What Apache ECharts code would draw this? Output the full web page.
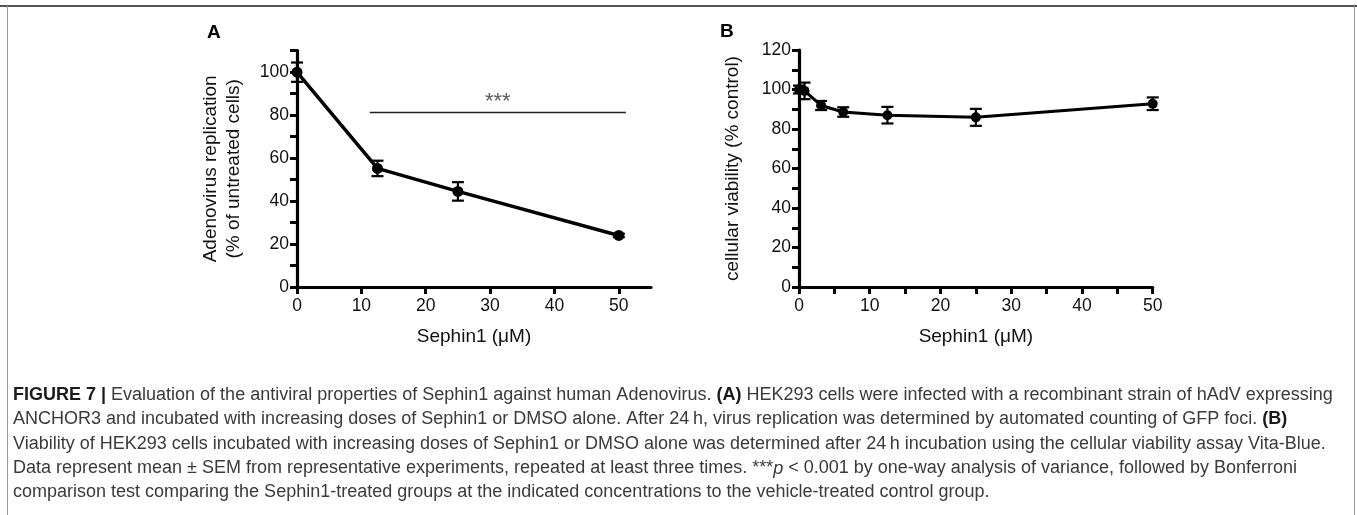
<!DOCTYPE html>
<html>
<head>
<meta charset="utf-8">
<script src="https://cdn.jsdelivr.net/npm/echarts@6/dist/echarts.min.js"></script>
<style>
html,body{margin:0;padding:0;background:#fff;}
#chart{width:1357px;height:515px;}
</style>
</head>
<body>
<div id="chart"></div>
<script>
// Panel A: adenovirus replication
const aX = [0, 12.5, 25, 50];
const aY = [100, 55.2, 44.5, 24];
const aErr = [4.5, 3.6, 4.3, 0.8];
// significance bar (x from, x to, y) and its label
const sigX = [11.3, 51.1];
const sigY = 81.2;
const sigText = '***';
// Panel B: cellular viability
const bX = [0, 0.78, 3.125, 6.25, 12.5, 25, 50];
const bY = [100, 99.3, 91.9, 88.6, 87.0, 85.9, 92.8];
const bErr = [2.0, 4.2, 2.3, 2.4, 4.2, 4.3, 3.2];
// axis ticks
const aXTicks = [0, 10, 20, 30, 40, 50];
const xName = 'Sephin1 (μM)';
const aYName = 'Adenovirus replication\n(% of untreated cells)';
const bYName = 'cellular viability (% control)';
const captionLines = [
  [['b','FIGURE 7 | '],['n','Evaluation of the antiviral properties of Sephin1 against human Adenovirus. '],['b','(A)'],['n',' HEK293 cells were infected with a recombinant strain of hAdV expressing']],
  [['n','ANCHOR3 and incubated with increasing doses of Sephin1 or DMSO alone. After 24\u2009h, virus replication was determined by automated counting of GFP foci. '],['b','(B)']],
  [['n','Viability of HEK293 cells incubated with increasing doses of Sephin1 or DMSO alone was determined after 24\u2009h incubation using the cellular viability assay Vita-Blue.']],
  [['n','Data represent mean \u00b1 SEM from representative experiments, repeated at least three times. ***'],['i','p'],['n',' < 0.001 by one-way analysis of variance, followed by Bonferroni']],
  [['n','comparison test comparing the Sephin1-treated groups at the indicated concentrations to the vehicle-treated control group.']]
];

const FONT = "'Liberation Sans', Arial, sans-serif";
const chart = echarts.init(document.getElementById('chart'), null, {renderer: 'canvas'});

function errRender(params, api) {
  const x = api.value(0), y = api.value(1), e = api.value(2);
  const t = api.coord([x, y + e]), b = api.coord([x, y - e]);
  const w = 6;
  const st = {stroke: '#000', lineWidth: 2.2};
  return {type: 'group', children: [
    {type: 'line', shape: {x1: t[0], y1: t[1], x2: b[0], y2: b[1]}, style: st},
    {type: 'line', shape: {x1: t[0] - w, y1: t[1], x2: t[0] + w, y2: t[1]}, style: st},
    {type: 'line', shape: {x1: b[0] - w, y1: b[1], x2: b[0] + w, y2: b[1]}, style: st}
  ]};
}

const axisLineStyle = {show: true, lineStyle: {color: '#000', width: 3.2}};
const tickStyle = {show: true, length: 7, lineStyle: {color: '#000', width: 3}};
const labelStyle = {color: '#111', fontSize: 17.5, fontFamily: FONT};
const nameStyle = {color: '#111', fontSize: 19, fontFamily: FONT};

const capFont = 18;
const graphics = [
  {type: 'line', shape: {x1: 0, y1: 6, x2: 1357, y2: 6}, style: {stroke: '#555', lineWidth: 2}},
  {type: 'line', shape: {x1: 7.5, y1: 6, x2: 7.5, y2: 515}, style: {stroke: '#999', lineWidth: 1}},
  {type: 'line', shape: {x1: 1354.5, y1: 6, x2: 1354.5, y2: 515}, style: {stroke: '#999', lineWidth: 1}},
  {type: 'text', left: 207, top: 23, style: {text: 'A', font: "bold 19px " + FONT, fill: '#000'}},
  {type: 'text', left: 720, top: 22, style: {text: 'B', font: "bold 19px " + FONT, fill: '#000'}}
];
const capTop = [395, 419.5, 444, 468.5, 492];
captionLines.forEach((parts, i) => {
  const text = parts.map(p => '{' + p[0] + '|' + p[1].replace(/[{}]/g, '') + '}').join('');
  graphics.push({
    type: 'text', x: 13, y: capTop[i],
    style: {
      text: text, verticalAlign: 'middle', align: 'left',
      rich: {
        n: {fontSize: capFont, fontFamily: FONT, fill: '#3a3a3a', color: '#3a3a3a'},
        b: {fontSize: capFont, fontFamily: FONT, fontWeight: 'bold', fill: '#1a1a1a', color: '#1a1a1a'},
        i: {fontSize: capFont, fontFamily: FONT, fontStyle: 'italic', fill: '#3a3a3a', color: '#3a3a3a'}
      }
    }
  });
});

const option = {
  backgroundColor: '#fff',
  animation: false,
  grid: [
    {left: 297, top: 50.7, width: 354, height: 236.3, containLabel: false},
    {left: 799, top: 50, width: 353.7, height: 237, containLabel: false}
  ],
  xAxis: [
    {
      type: 'value', gridIndex: 0, min: 0, max: 55,
      splitLine: {show: false},
      axisLine: axisLineStyle,
      axisTick: Object.assign({}, tickStyle, {customValues: aXTicks}),
      axisLabel: Object.assign({}, labelStyle, {margin: 10, customValues: aXTicks}),
      name: xName, nameLocation: 'middle', nameGap: 40, nameTextStyle: nameStyle
    },
    {
      type: 'value', gridIndex: 1, min: 0, max: 50, interval: 5,
      splitLine: {show: false},
      axisLine: axisLineStyle,
      axisTick: tickStyle,
      axisLabel: Object.assign({}, labelStyle, {margin: 10, formatter: v => (v % 10 === 0 ? String(v) : '')}),
      name: xName, nameLocation: 'middle', nameGap: 40, nameTextStyle: nameStyle
    }
  ],
  yAxis: [
    {
      type: 'value', gridIndex: 0, min: 0, max: 110, interval: 10,
      splitLine: {show: false},
      axisLine: axisLineStyle,
      axisTick: tickStyle,
      axisLabel: Object.assign({}, labelStyle, {margin: 8, formatter: v => (v % 20 === 0 ? String(v) : '')}),
      name: aYName, nameLocation: 'middle', nameGap: 52, nameRotate: 90,
      nameTextStyle: Object.assign({}, nameStyle, {lineHeight: 23})
    },
    {
      type: 'value', gridIndex: 1, min: 0, max: 120, interval: 10,
      splitLine: {show: false},
      axisLine: axisLineStyle,
      axisTick: tickStyle,
      axisLabel: Object.assign({}, labelStyle, {margin: 8, formatter: v => (v % 20 === 0 ? String(v) : '')}),
      name: bYName, nameLocation: 'middle', nameGap: 57, nameRotate: 90,
      nameTextStyle: nameStyle
    }
  ],
  series: [
    {
      type: 'line', xAxisIndex: 0, yAxisIndex: 0,
      data: aX.map((x, i) => [x, aY[i]]),
      symbol: 'circle', symbolSize: 11,
      lineStyle: {color: '#000', width: 3.5}, itemStyle: {color: '#000'},
      z: 3
    },
    {
      type: 'custom', xAxisIndex: 0, yAxisIndex: 0,
      data: aX.map((x, i) => [x, aY[i], aErr[i]]),
      renderItem: errRender, clip: false, z: 4
    },
    {
      type: 'line', xAxisIndex: 0, yAxisIndex: 0,
      data: sigX.map(x => [x, sigY]),
      symbol: 'none', lineStyle: {color: '#222', width: 1.5}, z: 2
    },
    {
      type: 'scatter', xAxisIndex: 0, yAxisIndex: 0,
      data: [[(sigX[0] + sigX[1]) / 2, sigY]],
      symbolSize: 0,
      label: {show: true, position: 'top', distance: 0, formatter: sigText,
        color: '#333', fontSize: 22, fontFamily: FONT}
    },
    {
      type: 'line', xAxisIndex: 1, yAxisIndex: 1,
      data: bX.map((x, i) => [x, bY[i]]),
      symbol: 'circle', symbolSize: 10,
      lineStyle: {color: '#000', width: 3}, itemStyle: {color: '#000'},
      z: 3
    },
    {
      type: 'custom', xAxisIndex: 1, yAxisIndex: 1,
      data: bX.map((x, i) => [x, bY[i], bErr[i]]),
      renderItem: errRender, clip: false, z: 4
    }
  ],
  graphic: graphics
};
chart.setOption(option);
</script>
</body>
</html>
